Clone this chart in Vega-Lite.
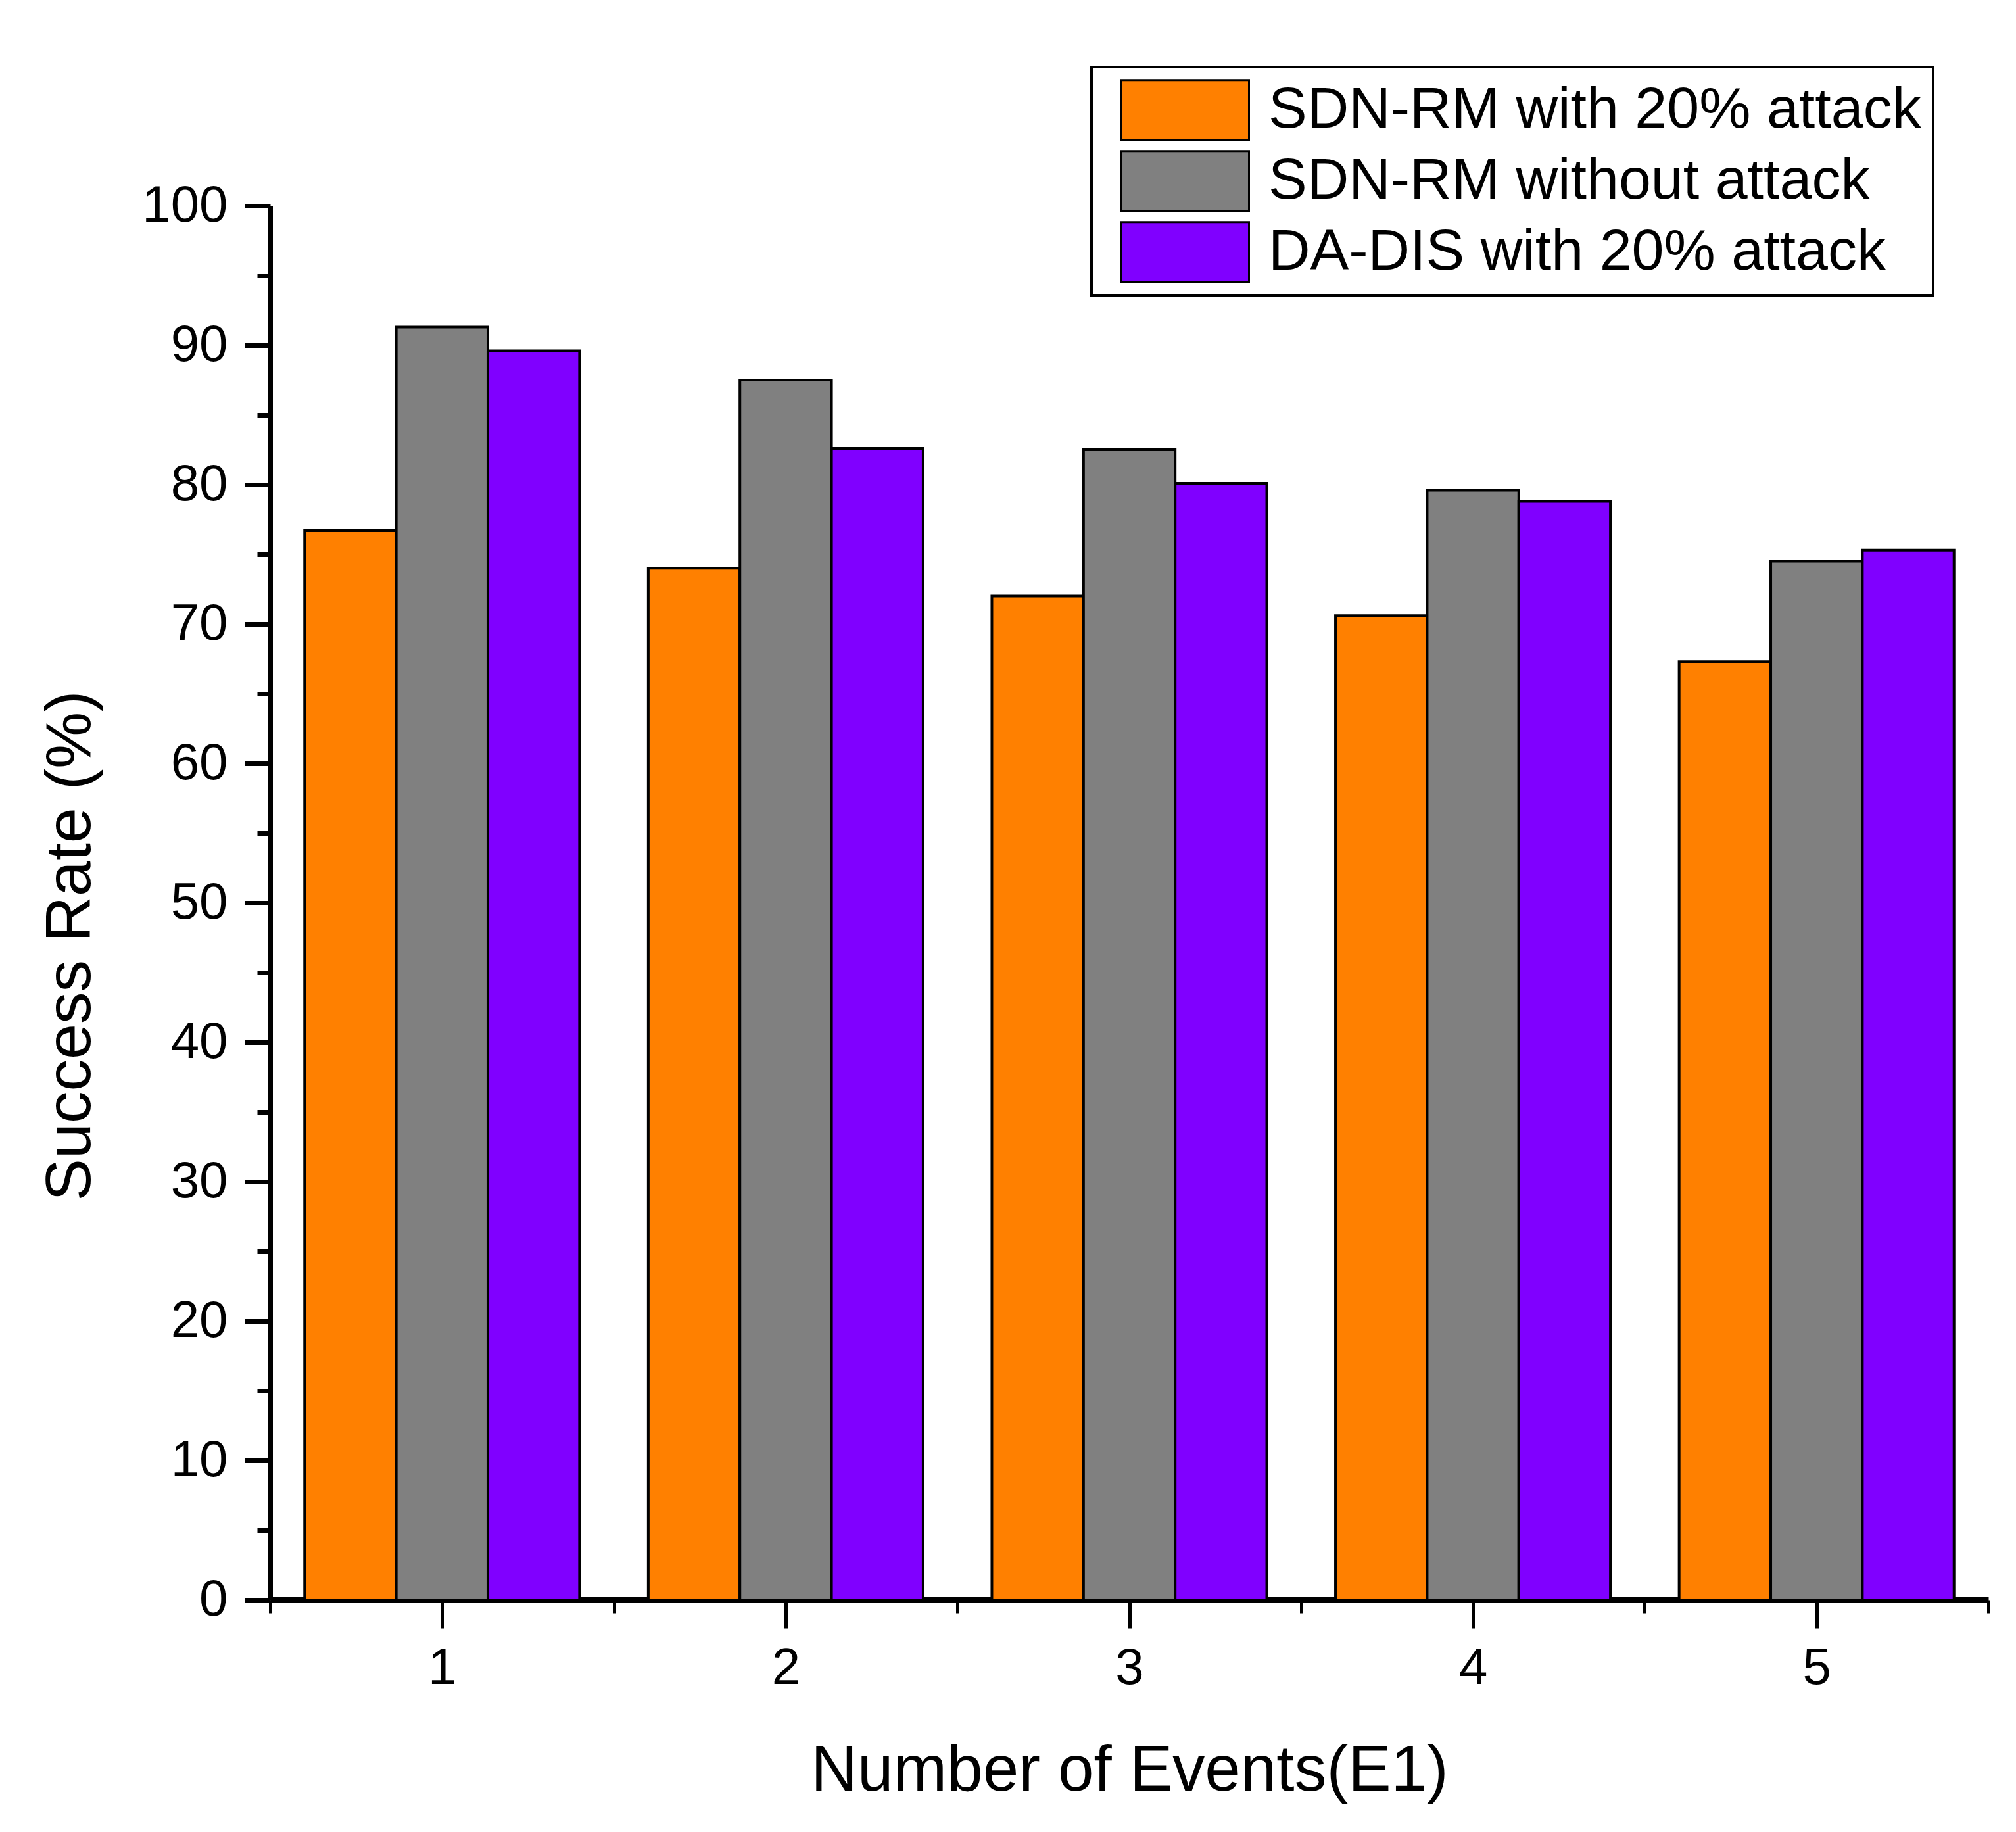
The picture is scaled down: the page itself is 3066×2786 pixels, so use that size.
{
  "$schema": "https://vega.github.io/schema/vega-lite/v6.json",
  "width": 2613,
  "height": 2120,
  "autosize": "none",
  "padding": {"left": 411, "top": 313, "right": 42, "bottom": 353},
  "background": "white",
  "config": {
    "view": {"stroke": null},
    "font": "Liberation Sans",
    "axis": {
      "labelFont": "Liberation Sans",
      "titleFont": "Liberation Sans",
      "labelColor": "black",
      "titleColor": "black",
      "domainColor": "black",
      "tickColor": "black",
      "grid": false,
      "titleFontWeight": "normal"
    },
    "legend": {"strokeWidth": 4}
  },
  "data": {
    "values": [
      {"event": 1, "series": "SDN-RM with 20% attack", "rate": 76.7},
      {"event": 1, "series": "SDN-RM without attack", "rate": 91.3},
      {"event": 1, "series": "DA-DIS with 20% attack", "rate": 89.6},
      {"event": 2, "series": "SDN-RM with 20% attack", "rate": 74.0},
      {"event": 2, "series": "SDN-RM without attack", "rate": 87.5},
      {"event": 2, "series": "DA-DIS with 20% attack", "rate": 82.6},
      {"event": 3, "series": "SDN-RM with 20% attack", "rate": 72.0},
      {"event": 3, "series": "SDN-RM without attack", "rate": 82.5},
      {"event": 3, "series": "DA-DIS with 20% attack", "rate": 80.1},
      {"event": 4, "series": "SDN-RM with 20% attack", "rate": 70.6},
      {"event": 4, "series": "SDN-RM without attack", "rate": 79.6},
      {"event": 4, "series": "DA-DIS with 20% attack", "rate": 78.8},
      {"event": 5, "series": "SDN-RM with 20% attack", "rate": 67.3},
      {"event": 5, "series": "SDN-RM without attack", "rate": 74.5},
      {"event": 5, "series": "DA-DIS with 20% attack", "rate": 75.3}
    ]
  },
  "layer": [
    {
      "mark": {"type": "bar", "stroke": "black", "strokeWidth": 4},
      "encoding": {
        "x": {
          "field": "event",
          "type": "nominal",
          "scale": {"paddingInner": 0.2, "paddingOuter": 0.1},
          "axis": null
        },
        "xOffset": {
          "field": "series",
          "type": "nominal",
          "scale": {
            "domain": ["SDN-RM with 20% attack", "SDN-RM without attack", "DA-DIS with 20% attack"],
            "paddingInner": 0,
            "paddingOuter": 0
          }
        },
        "y": {
          "field": "rate",
          "type": "quantitative",
          "scale": {"domain": [0, 100], "nice": false},
          "axis": {
            "values": [0, 5, 10, 15, 20, 25, 30, 35, 40, 45, 50, 55, 60, 65, 70, 75, 80, 85, 90, 95, 100],
            "title": "Success Rate (%)",
            "titleFontSize": 97,
            "titleX": -275,
            "titleY": 1125,
            "titleBaseline": "alphabetic",
            "labelFontSize": 78,
            "labelPadding": 26,
            "labelExpr": "datum.value % 10 == 0 ? datum.label : ''",
            "tickSize": {"condition": {"test": "datum.value % 10 == 0", "value": 39}, "value": 20},
            "tickWidth": 7,
            "domainWidth": 7
          }
        },
        "color": {
          "field": "series",
          "type": "nominal",
          "scale": {
            "domain": ["SDN-RM with 20% attack", "SDN-RM without attack", "DA-DIS with 20% attack"],
            "range": ["#FF8000", "#808080", "#8000FF"]
          },
          "legend": {
            "title": null,
            "orient": "none",
            "legendX": 1249,
            "legendY": -211,
            "direction": "vertical",
            "fillColor": "white",
            "strokeColor": "black",
            "padding": 18,
            "symbolType": "M-1,-0.47H1V0.47H-1Z",
            "symbolSize": 38025,
            "symbolStrokeColor": "black",
            "symbolStrokeWidth": 3,
            "symbolOpacity": 1,
            "symbolOffset": 25,
            "clipHeight": 95,
            "labelFont": "Liberation Sans",
            "labelFontSize": 88,
            "labelColor": "black",
            "labelOffset": 28,
            "labelLimit": 2000,
            "rowPadding": 13
          }
        }
      }
    },
    {
      "mark": {"type": "point", "opacity": 0},
      "encoding": {
        "x": {
          "field": "event",
          "type": "quantitative",
          "scale": {"domain": [0.5, 5.5], "nice": false, "zero": false},
          "axis": {
            "orient": "bottom",
            "values": [1, 2, 3, 4, 5],
            "format": "d",
            "title": "Number of Events(E1)",
            "titleFontSize": 98,
            "titleY": 289,
            "titleBaseline": "alphabetic",
            "labelFontSize": 78,
            "labelPadding": 22,
            "tickSize": 43,
            "tickWidth": 5,
            "domainWidth": 9
          }
        }
      }
    },
    {
      "mark": {"type": "point", "opacity": 0},
      "encoding": {
        "x": {
          "field": "event",
          "type": "quantitative",
          "scale": {"domain": [0.5, 5.5], "nice": false, "zero": false},
          "axis": {
            "orient": "bottom",
            "values": [0.5, 1.5, 2.5, 3.5, 4.5, 5.5],
            "title": null,
            "labels": false,
            "domain": false,
            "tickSize": 20,
            "tickWidth": 5
          }
        }
      }
    }
  ],
  "resolve": {"scale": {"x": "independent"}, "axis": {"x": "independent"}}
}
